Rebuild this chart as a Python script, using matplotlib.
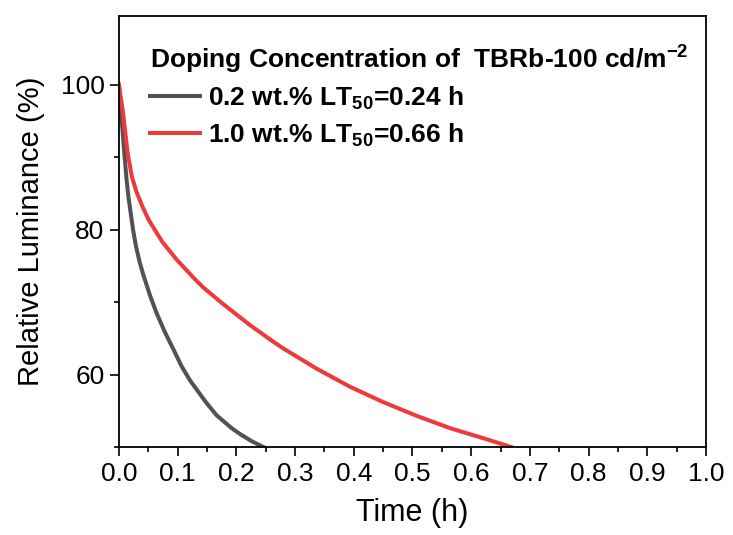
import matplotlib
matplotlib.use('Agg')
import matplotlib.pyplot as plt
from matplotlib.ticker import MultipleLocator

# luminance decay traces, read as (time in h, relative luminance in %)
t_02 = [0, 0.006, 0.0097, 0.013, 0.016, 0.020, 0.024, 0.029, 0.035, 0.041,
        0.053, 0.064, 0.078, 0.092, 0.107, 0.121, 0.147, 0.166, 0.192,
        0.206, 0.226, 0.246]
lum_02 = [100, 93.8, 90.0, 86.9, 84.6, 82.3, 80.0, 77.7, 75.6, 73.9,
          70.9, 68.5, 65.9, 63.6, 61.1, 59.2, 56.3, 54.4, 52.6,
          51.8, 50.8, 50.0]

t_10 = [0, 0.003, 0.007, 0.013, 0.015, 0.022, 0.030, 0.040, 0.051, 0.074,
        0.099, 0.129, 0.144, 0.175, 0.200, 0.222, 0.260, 0.280, 0.337,
        0.394, 0.450, 0.507, 0.564, 0.621, 0.668]
lum_10 = [100, 98.3, 96.1, 91.8, 90.5, 87.3, 85.2, 83.2, 81.3, 78.3,
          75.8, 73.2, 72.0, 69.9, 68.3, 66.9, 64.7, 63.6, 60.8,
          58.3, 56.2, 54.3, 52.6, 51.2, 50.0]

labels = [r'0.2 wt.% LT$_{\mathbf{50}}$=0.24 h',
          r'1.0 wt.% LT$_{\mathbf{50}}$=0.66 h']
legend_title = r'Doping Concentration of  TBRb-100 cd/m$^{\mathbf{-2}}$'

plt.rcParams['font.family'] = ['Liberation Sans', 'DejaVu Sans']
plt.rcParams['mathtext.fontset'] = 'custom'
plt.rcParams['mathtext.rm'] = 'Liberation Sans'
plt.rcParams['mathtext.bf'] = 'Liberation Sans:bold'

fig = plt.figure(figsize=(7.33, 5.35), dpi=100)
ax = fig.add_axes([0.1623, 0.1645, 0.8009, 0.8055])

ax.plot(t_02, lum_02, color='#525252', lw=2.9, label=labels[0])
ax.plot(t_10, lum_10, color='#ef3a3c', lw=2.9, label=labels[1])

ax.set_xlim(0, 1.0)
ax.set_ylim(50, 109.5)
ax.xaxis.set_major_locator(MultipleLocator(0.1))
ax.xaxis.set_minor_locator(MultipleLocator(0.05))
ax.yaxis.set_major_locator(MultipleLocator(20))
ax.yaxis.set_minor_locator(MultipleLocator(10))
ax.tick_params(which='both', direction='out', width=1.2, labelsize=19, pad=4)
ax.tick_params(which='major', length=6.5)
ax.tick_params(which='minor', length=3.5)
for s in ax.spines.values():
    s.set_linewidth(1.3)

ax.set_xlabel('Time (h)', fontsize=22, labelpad=9)
ax.set_ylabel('Relative Luminance (%)', fontsize=21, labelpad=11)

leg = ax.legend(loc='upper left', bbox_to_anchor=(0.053, 0.94), frameon=False,
                title=legend_title, title_fontproperties={'size': 19, 'weight': 'bold'},
                prop={'size': 19, 'weight': 'bold'}, alignment='left',
                handlelength=1.9, handletextpad=0.3, labelspacing=0.36,
                borderpad=0, borderaxespad=0)

fig.savefig('out.png', dpi=100)
